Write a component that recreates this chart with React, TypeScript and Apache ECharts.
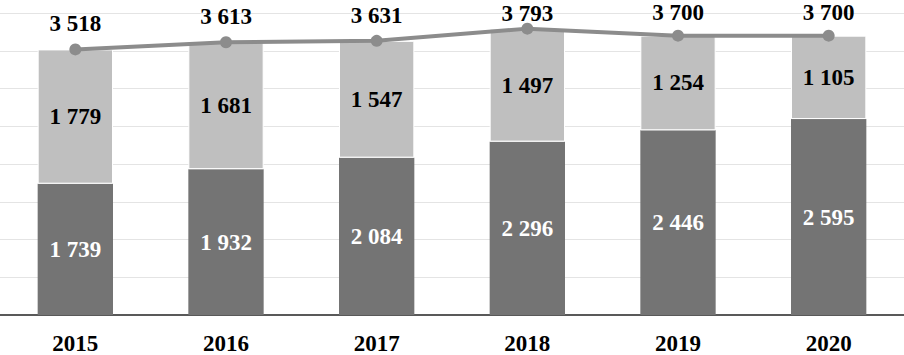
import React, { useEffect, useRef } from "react";
import * as echarts from "echarts";

const categories = ["2015", "2016", "2017", "2018", "2019", "2020"];
const darkValues = [1739, 1932, 2084, 2296, 2446, 2595];
const lightValues = [1779, 1681, 1547, 1497, 1254, 1105];
const totalValues = [3518, 3613, 3631, 3793, 3700, 3700];

const fmt = (v: number) => {
  const s = String(Math.round(v));
  return s.replace(/\B(?=(\d{3})+(?!\d))/g, " ");
};

const FONT = "'Liberation Serif', 'Times New Roman', serif";
const FS = 23;

export default function App() {
  const ref = useRef<HTMLDivElement>(null);
  useEffect(() => {
    if (!ref.current) return;
    const chart = echarts.init(ref.current, null, { renderer: "svg" });
    const maxTotal = Math.max(...totalValues);
    const lineData = totalValues.map((v) =>
      v === maxTotal
        ? { value: v, label: { distance: -2 } }
        : v > 3650
        ? { value: v, label: { distance: 6 } }
        : v
    );
    chart.setOption({
      animation: false,
      backgroundColor: "#ffffff",
      grid: { left: 0, right: 0, top: 13, bottom: 37, containLabel: false },
      xAxis: {
        type: "category",
        data: categories,
        axisLine: { show: true, lineStyle: { color: "#595959", width: 2 } },
        axisTick: { show: false },
        axisLabel: {
          color: "#000000",
          fontFamily: FONT,
          fontWeight: "bold",
          fontSize: FS,
          margin: 17,
        },
      },
      yAxis: {
        type: "value",
        min: 0,
        max: 4000,
        interval: 500,
        axisLabel: { show: false },
        axisLine: { show: false },
        axisTick: { show: false },
        splitLine: { show: true, lineStyle: { color: "#e4e4e4", width: 1 } },
      },
      series: [
        {
          type: "bar",
          stack: "total",
          data: darkValues,
          barWidth: "50%",
          itemStyle: { color: "#747474" },
          label: {
            show: true,
            position: "inside",
            color: "#ffffff",
            fontFamily: FONT,
            fontWeight: "bold",
            fontSize: FS,
            formatter: (p: any) => fmt(p.value),
          },
        },
        {
          type: "bar",
          stack: "total",
          data: lightValues,
          barWidth: "50%",
          itemStyle: { color: "#bfbfbf", borderColor: "#ffffff", borderWidth: 1 },
          label: {
            show: true,
            position: "inside",
            color: "#000000",
            fontFamily: FONT,
            fontWeight: "bold",
            fontSize: FS,
            formatter: (p: any) => fmt(p.value),
          },
        },
        {
          type: "line",
          data: lineData,
          symbol: "circle",
          symbolSize: 12,
          z: 5,
          lineStyle: { color: "#8c8c8c", width: 4 },
          itemStyle: { color: "#8c8c8c" },
          label: {
            show: true,
            position: "top",
            distance: 8,
            color: "#000000",
            fontFamily: FONT,
            fontWeight: "bold",
            fontSize: FS,
            formatter: (p: any) => fmt(p.value),
          },
        },
      ],
    });
    return () => chart.dispose();
  }, []);
  return (
    <div
      ref={ref}
      style={{ position: "fixed", left: 0, top: 0, width: 904, height: 355 }}
    />
  );
}
